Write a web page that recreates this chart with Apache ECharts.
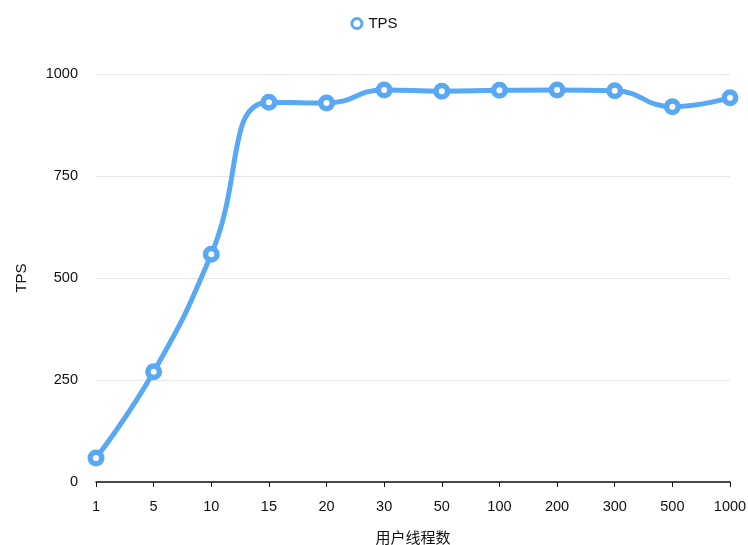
<!DOCTYPE html>
<html><head><meta charset="utf-8">
<script src="https://cdn.jsdelivr.net/npm/echarts@6/dist/echarts.min.js"></script>
<style>html,body{margin:0;padding:0;background:#fff}#c{width:748px;height:545px}</style>
</head><body><div id="c"></div>
<script>
var categories = ['1','5','10','15','20','30','50','100','200','300','500','1000'];
var tpsValues = [59, 270, 558, 931, 929, 961, 958, 960, 961, 959, 920, 942];
var yTicks = [0, 250, 500, 750, 1000];
var chart = echarts.init(document.getElementById('c'));
var font = '"Liberation Sans", Arial, sans-serif';
var color = '#58A8F6';
chart.setOption({
  animation: false,
  textStyle: {fontFamily: font},
  legend: {top: 11, left: 'center', itemWidth: 13, itemHeight: 10, itemGap: 6,
    textStyle: {fontSize: 15, color: '#111', fontFamily: font},
    itemStyle: {color: '#fff', borderColor: color, borderWidth: 3},
    data: [{name: 'TPS', icon: 'circle'}]},
  grid: {left: 96, right: 18, top: 74, bottom: 63, outerBoundsMode: 'none', containLabel: false},
  xAxis: {type: 'category', data: categories, boundaryGap: false,
    name: '用户线程数', nameLocation: 'middle', nameGap: 48,
    nameTextStyle: {fontSize: 15, color: '#111', fontFamily: '"Noto Sans CJK SC", sans-serif'},
    axisLine: {lineStyle: {color: '#111', width: 1.5}},
    axisTick: {lineStyle: {color: '#111'}, length: 5, alignWithLabel: true},
    axisLabel: {fontSize: 14.5, color: '#111', margin: 17}},
  yAxis: {type: 'value', min: yTicks[0], max: yTicks[yTicks.length-1], interval: 250,
    name: 'TPS', nameLocation: 'middle', nameGap: 67, nameRotate: 90,
    nameTextStyle: {fontSize: 15, color: '#111'},
    axisLine: {show: false}, axisTick: {show: false},
    axisLabel: {fontSize: 14.5, color: '#111', margin: 18, formatter: function(v){return String(v);}},
    splitLine: {lineStyle: {color: '#e6e6e6'}}},
  series: [{name: 'TPS', type: 'line', data: tpsValues, smooth: 0.5,
    symbol: 'circle', symbolSize: 11.5, color: color,
    lineStyle: {width: 5, color: color},
    itemStyle: {color: '#fff', borderWidth: 5.5, borderColor: color}}]
});
</script></body></html>
